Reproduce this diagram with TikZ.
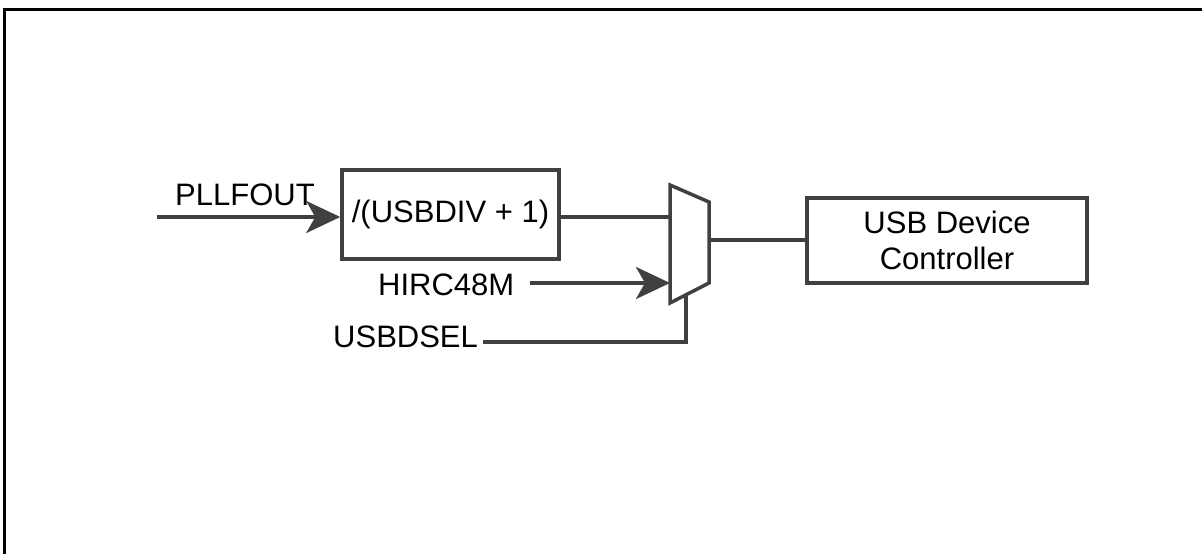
\documentclass[tikz,border=0pt]{standalone}
\usepackage{fontspec}
\setmainfont{Liberation Sans}
\usetikzlibrary{arrows.meta,positioning}
\definecolor{WireGray}{HTML}{404040}

\begin{document}
\begin{tikzpicture}[x=1pt,y=-1pt,font=\fontsize{31}{36}\selectfont,>=Stealth]
\tikzset{
  block/.style={draw=WireGray,line width=3.5pt,minimum width=217pt,minimum height=89pt,
                align=center,inner sep=0pt,text=black},
  wire/.style={WireGray,line width=3.5pt},
  feed/.style={WireGray,line width=3.5pt,-{Stealth[length=34pt,width=32pt,inset=9pt]}},
  sig/.style={text=black,inner sep=0pt}
}
\useasboundingbox (0,0) rectangle (1202,554);

% ---------- frame --------------------------------------------------------
\draw[black,line width=3pt] (1202,9)--(4,9)--(4,554);

% ---------- blocks -------------------------------------------------------
\node[block] (div) at (450.5,214.5) {/(USBDIV + 1)};
\node[block,minimum width=280pt,minimum height=85pt] (usb) at (947,240.5)
  {USB Device\\Controller};

% ---------- the mux ------------------------------------------------------
\coordinate (muxtl) at (670,185);
\coordinate (muxbl) at (670,303);
\coordinate (muxtr) at (709,202);
\coordinate (muxbr) at (709,283);
\draw[wire,line join=miter] (muxtl)--(muxtr)--(muxbr)--(muxbl)--cycle;
\coordinate (muxa)   at (670,217);
\coordinate (muxb)   at (670,283);
\coordinate (muxsel) at (686,295);
\coordinate (muxout) at (709,240);

% ---------- signal labels ------------------------------------------------
\node[sig,anchor=base west] (pll)  at (175,205) {PLLFOUT};
\node[sig,anchor=base west] (hirc) at (378,295) {HIRC48M};
\node[sig,anchor=base west] (sel)  at (333,347) {USBDSEL};

\coordinate (pllin)  at (157,217);
\coordinate (hircin) at (530,283);
\coordinate (selin)  at (483,342);

% ---------- wires --------------------------------------------------------
\draw[feed] (pllin)--(div.west |- pllin);
\draw[wire] (div.east |- muxa)--(muxa);
\draw[feed] (hircin)--(muxb);
\draw[wire] (selin) -| (muxsel);
\draw[wire] (muxout)--(usb.west |- muxout);
\end{tikzpicture}
\end{document}
